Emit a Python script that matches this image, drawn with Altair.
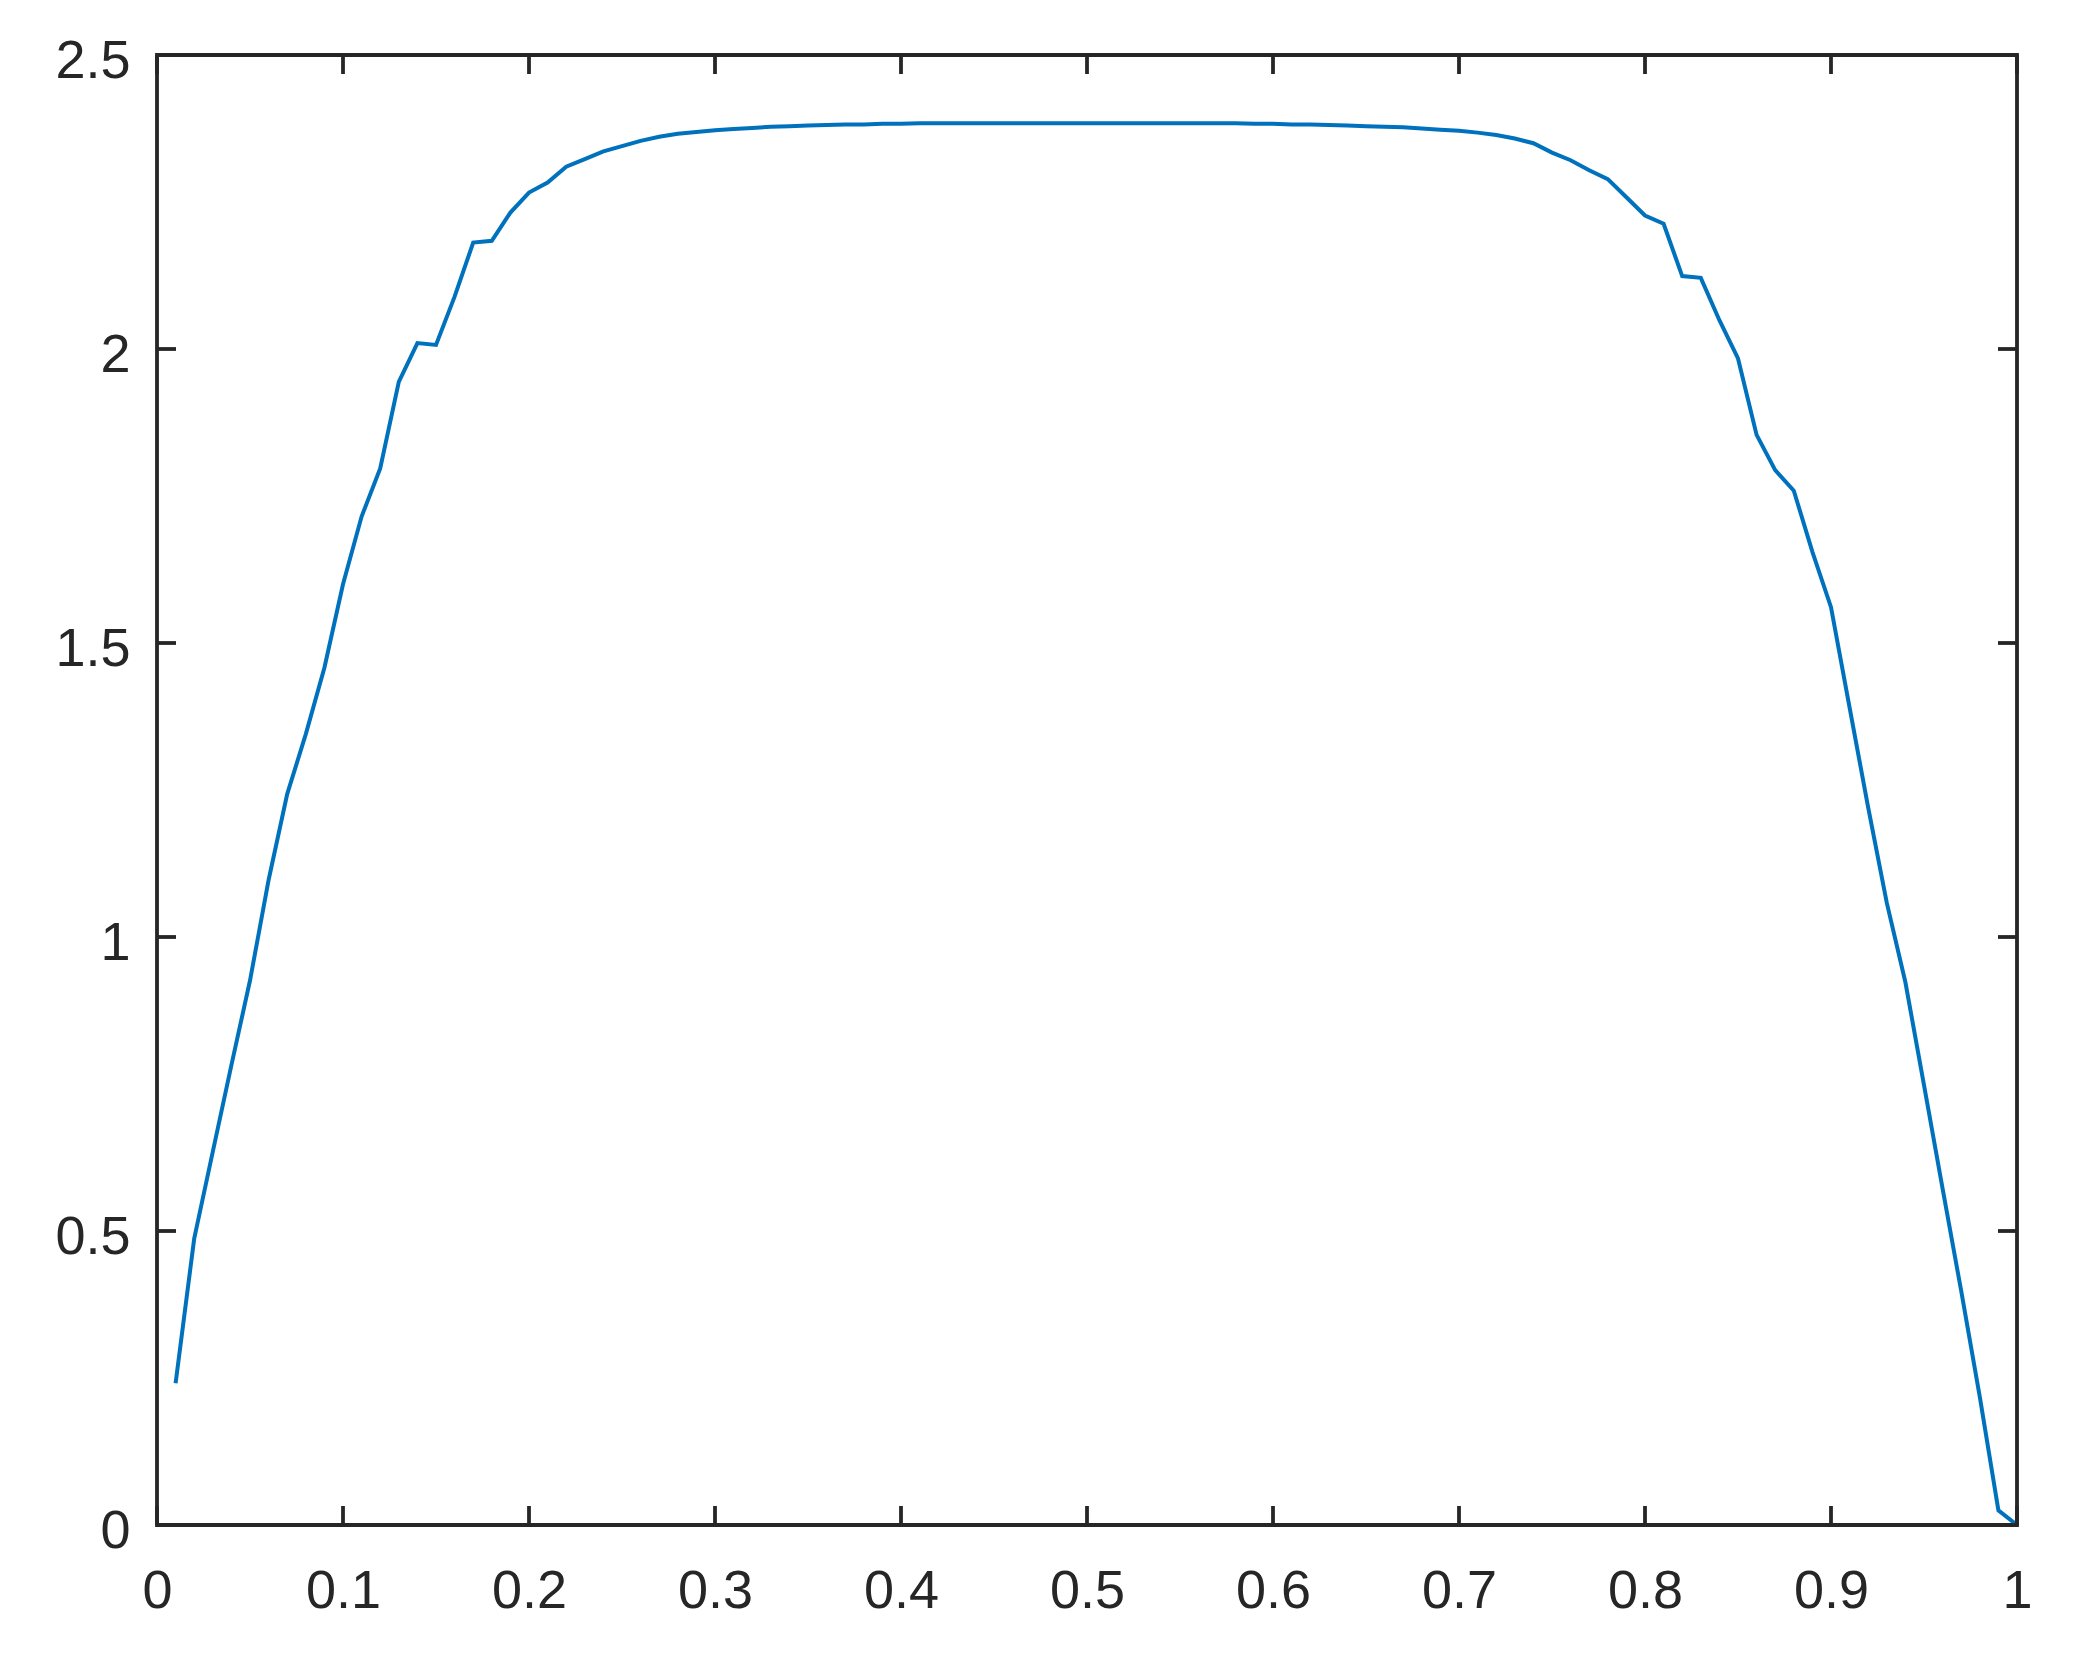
import altair as alt
import pandas as pd

# x positions of the samples
x_values = [
    0.01, 0.02, 0.03, 0.04, 0.05, 0.06, 0.07, 0.08, 0.09, 0.10,
    0.11, 0.12, 0.13, 0.14, 0.15, 0.16, 0.17, 0.18, 0.19, 0.20,
    0.21, 0.22, 0.23, 0.24, 0.25, 0.26, 0.27, 0.28, 0.29, 0.30,
    0.31, 0.32, 0.33, 0.34, 0.35, 0.36, 0.37, 0.38, 0.39, 0.40,
    0.41, 0.42, 0.43, 0.44, 0.45, 0.46, 0.47, 0.48, 0.49, 0.50,
    0.51, 0.52, 0.53, 0.54, 0.55, 0.56, 0.57, 0.58, 0.59, 0.60,
    0.61, 0.62, 0.63, 0.64, 0.65, 0.66, 0.67, 0.68, 0.69, 0.70,
    0.71, 0.72, 0.73, 0.74, 0.75, 0.76, 0.77, 0.78, 0.79, 0.80,
    0.81, 0.82, 0.83, 0.84, 0.85, 0.86, 0.87, 0.88, 0.89, 0.90,
    0.91, 0.92, 0.93, 0.94, 0.95, 0.96, 0.97, 0.98, 0.99, 1.00,
]

# series values
y_values = [
    0.241, 0.487, 0.635, 0.782, 0.926, 1.097, 1.243, 1.345, 1.458, 1.600,
    1.715, 1.797, 1.944, 2.010, 2.007, 2.089, 2.181, 2.184, 2.232, 2.266,
    2.283, 2.310, 2.323, 2.336, 2.345, 2.354, 2.361, 2.366, 2.369, 2.372,
    2.374, 2.376, 2.378, 2.379, 2.380, 2.381, 2.382, 2.382, 2.383, 2.383,
    2.384, 2.384, 2.384, 2.384, 2.384, 2.384, 2.384, 2.384, 2.384, 2.384,
    2.384, 2.384, 2.384, 2.384, 2.384, 2.384, 2.384, 2.384, 2.383, 2.383,
    2.382, 2.382, 2.381, 2.380, 2.379, 2.378, 2.377, 2.375, 2.373, 2.371,
    2.368, 2.364, 2.358, 2.350, 2.334, 2.321, 2.304, 2.289, 2.258, 2.227,
    2.213, 2.124, 2.121, 2.049, 1.984, 1.854, 1.794, 1.759, 1.655, 1.561,
    1.390, 1.220, 1.058, 0.923, 0.748, 0.572, 0.398, 0.218, 0.025, 0.000,
]

# tick values
x_ticks = [0, 0.1, 0.2, 0.3, 0.4, 0.5, 0.6, 0.7, 0.8, 0.9, 1]
y_ticks = [0, 0.5, 1, 1.5, 2, 2.5]

W, H = 1860, 1470
TICK = 19
AXIS_COLOR = "#262626"
LINE_COLOR = "#0072BD"
FONT = "Liberation Sans"
FS = 54

df = pd.DataFrame({"x": x_values, "y": y_values})
dfx = pd.DataFrame({"x": x_ticks})
dfy = pd.DataFrame({"y": y_ticks})

xscale = alt.Scale(domain=[0, 1], nice=False, zero=False)
yscale = alt.Scale(domain=[0, 2.5], nice=False, zero=False)

xaxis = alt.Axis(values=x_ticks, format="~g", labelPadding=39, labelFlush=False,
                 labelOverlap=False)
yaxis = alt.Axis(values=y_ticks, format="~g", labelPadding=27, labelOffset=6,
                 labelFlush=False, labelOverlap=False)

line = alt.Chart(df).mark_line(color=LINE_COLOR, strokeWidth=4, clip=False).encode(
    x=alt.X("x:Q", scale=xscale, axis=xaxis, title=""),
    y=alt.Y("y:Q", scale=yscale, axis=yaxis, title=""),
)

rule_style = dict(color=AXIS_COLOR, strokeWidth=3.8)

xt_bottom = alt.Chart(dfx).mark_rule(**rule_style).encode(
    x=alt.X("x:Q", scale=xscale, axis=xaxis, title=""),
    y=alt.value(H), y2=alt.value(H - TICK),
)
xt_top = alt.Chart(dfx).mark_rule(**rule_style).encode(
    x=alt.X("x:Q", scale=xscale, axis=xaxis, title=""),
    y=alt.value(0), y2=alt.value(TICK),
)
yt_left = alt.Chart(dfy).mark_rule(**rule_style).encode(
    y=alt.Y("y:Q", scale=yscale, axis=yaxis, title=""),
    x=alt.value(0), x2=alt.value(TICK),
)
yt_right = alt.Chart(dfy).mark_rule(**rule_style).encode(
    y=alt.Y("y:Q", scale=yscale, axis=yaxis, title=""),
    x=alt.value(W), x2=alt.value(W - TICK),
)

chart = alt.layer(line, xt_bottom, xt_top, yt_left, yt_right).properties(
    width=W,
    height=H,
    padding={"left": 149, "top": 47, "right": 50, "bottom": 120},
    autosize=alt.AutoSizeParams(type="none"),
    background="white",
).configure_view(
    stroke=AXIS_COLOR, strokeWidth=3.8
).configure_axis(
    domain=False, ticks=False, grid=False,
    labelFont=FONT, labelFontSize=FS, labelColor=AXIS_COLOR,
)

chart.save("out.html", embed_options={"renderer": "svg", "actions": False})
